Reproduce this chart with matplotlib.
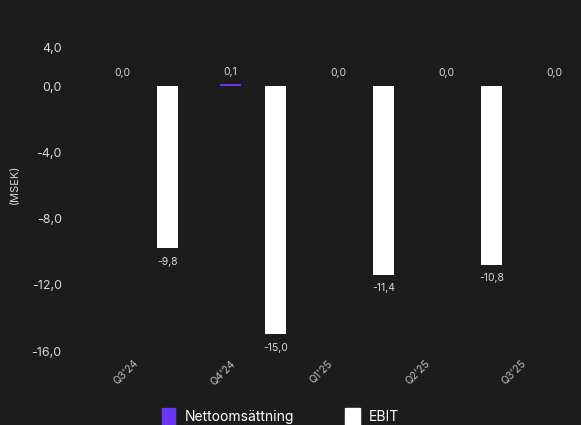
import numpy as np
import matplotlib
matplotlib.use("Agg")
import matplotlib.pyplot as plt
from matplotlib.patches import Rectangle

categories = ["Q3'24", "Q4'24", "Q1'25", "Q2'25", "Q3'25"]
netto = [0.0, 0.1, 0.0, 0.0, 0.0]
ebit = [-9.8, -15.0, -11.4, -10.8, np.nan]
ytick_vals = [0, -4, -8, -12, -16]

BG = "#1c1c1c"
PURPLE = "#6a35f5"
TXT = "#d9d9d9"
plt.rcParams['font.family'] = ['Inter', 'DejaVu Sans']

fig = plt.figure(figsize=(5.81, 4.25), dpi=100, facecolor=BG)
W, H = 581, 425
ytop = 2.36
ax = fig.add_axes([70 / W, 1 - 351 / H, 1 - 70 / W, (351 - 47) / H])
ax.set_facecolor(BG)

x = np.arange(len(categories))
off = 0.21
bw = 0.2
ax.bar(x - off, netto, bw, color=PURPLE)
ax.bar(x + off, ebit, bw, color="white")

for xi, v in zip(x, netto):
    ax.annotate(f"{v:.1f}".replace(".", ","), (xi - off, v), xytext=(0, 5.5),
                textcoords="offset points", ha="center", va="bottom",
                color=TXT, fontsize=7.5)
for xi, v in zip(x, ebit):
    if np.isnan(v):
        continue
    ax.annotate(f"{v:.1f}".replace(".", ","), (xi + off, v), xytext=(0, -6),
                textcoords="offset points", ha="center", va="top",
                color=TXT, fontsize=7.5)

ax.set_xlim((70 - 145) / 108, (581 - 145) / 108)
ax.set_ylim(-16, ytop)

ax.set_yticks(ytick_vals + [ytop])
ax.set_yticklabels([f"{v:.1f}".replace(".", ",") for v in ytick_vals] + ["4,0"],
                   color=TXT, fontsize=9)
tickpos = (x * 97 + 133 - 145) / 108
ax.set_xticks(tickpos)
ax.set_xticklabels(categories, rotation=45, ha="right", rotation_mode="anchor",
                   color="#bdbdbd", fontsize=7.5)
ax.tick_params(length=0, axis="y", pad=6)
ax.tick_params(length=0, axis="x", pad=5)
for s in ax.spines.values():
    s.set_visible(False)

fig.text(15 / W, 1 - 184 / H, "(MSEK)", rotation=90, ha="center", va="center",
         color=TXT, fontsize=8)

# legend
fig.patches.append(Rectangle((162 / W, 1 - 425 / H), 13 / W, 17 / H,
                             transform=fig.transFigure, color=PURPLE))
fig.text(185 / W, 1 - 417 / H, "Nettoomsättning", color="white", fontsize=10,
         ha="left", va="center")
fig.patches.append(Rectangle((345 / W, 1 - 425 / H), 15 / W, 17 / H,
                             transform=fig.transFigure, color="white"))
fig.text(369 / W, 1 - 417 / H, "EBIT", color="white", fontsize=10,
         ha="left", va="center")

fig.savefig("out.png", dpi=100, facecolor=BG)
